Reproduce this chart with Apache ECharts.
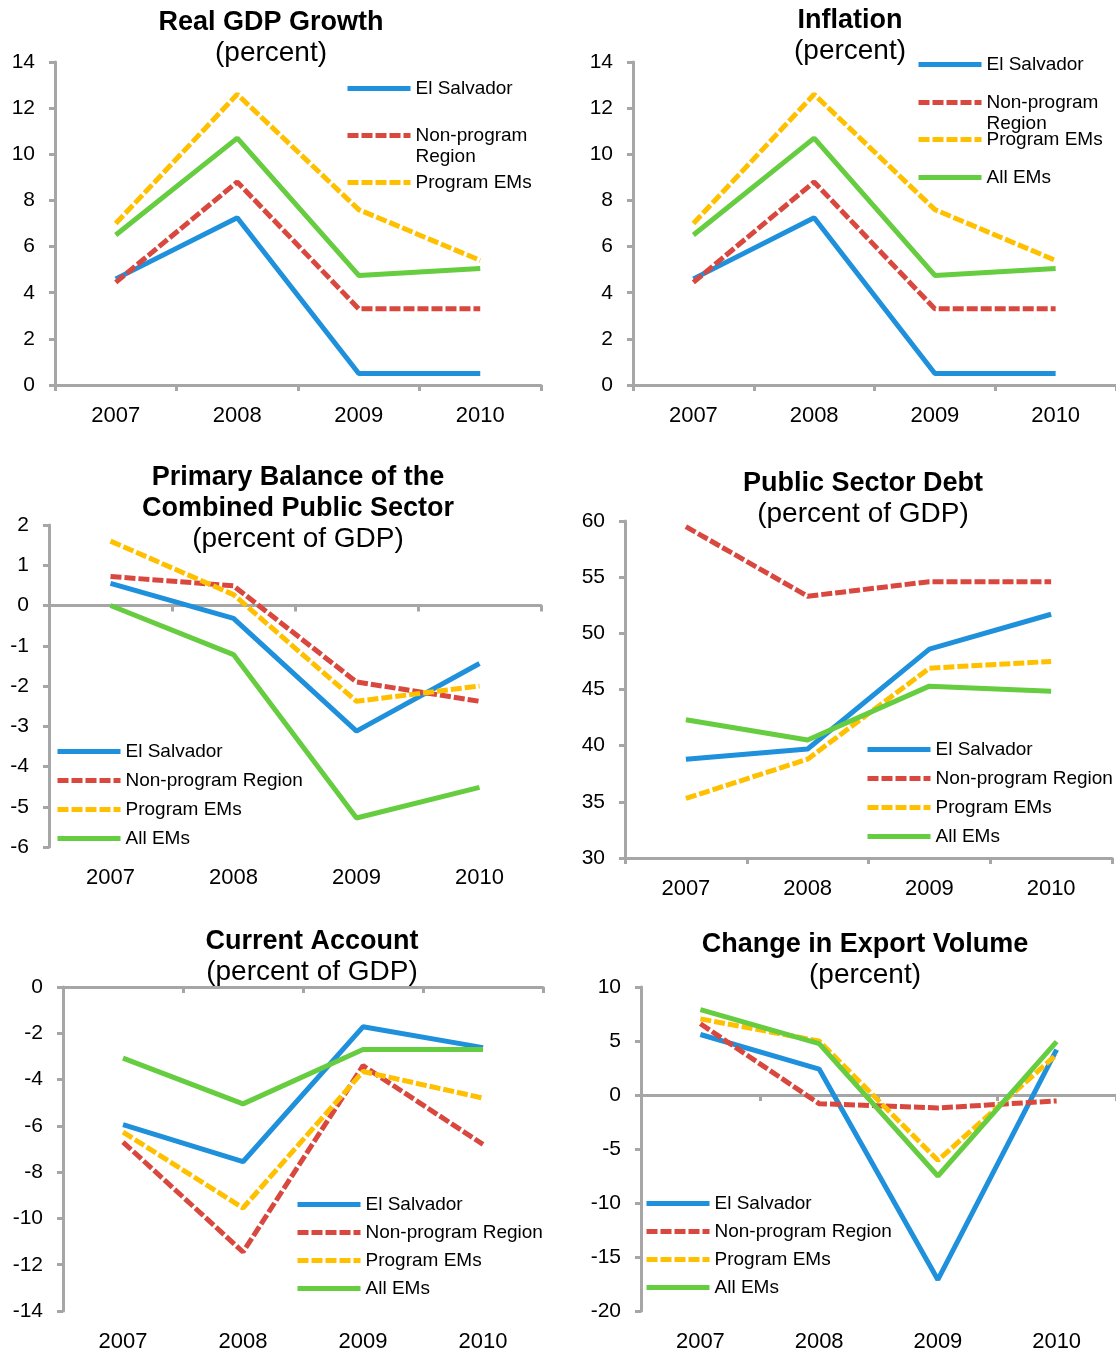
<!DOCTYPE html>
<html>
<head>
<meta charset="utf-8">
<script src="https://cdn.jsdelivr.net/npm/echarts@6/dist/echarts.min.js"></script>
<style>
html, body { margin: 0; padding: 0; background: #fff; }
#main { width: 1116px; height: 1355px; }
</style>
</head>
<body>
<div id="main"></div>
<script>
const years = ['2007', '2008', '2009', '2010'];
const seriesNames = ['El Salvador', 'Non-program Region', 'Program EMs', 'All EMs'];

// Real GDP growth (percent)
const gdpElSalvador = [4.6, 7.25, 0.5, 0.5];
const gdpNonProgram = [4.45, 8.8, 3.3, 3.3];
const gdpProgram = [7.0, 12.6, 7.6, 5.4];
const gdpAllEMs = [6.5, 10.7, 4.75, 5.05];

// Inflation (percent)
const inflElSalvador = [4.6, 7.25, 0.5, 0.5];
const inflNonProgram = [4.45, 8.8, 3.3, 3.3];
const inflProgram = [7.0, 12.6, 7.6, 5.4];
const inflAllEMs = [6.5, 10.7, 4.75, 5.05];

// Primary balance of the combined public sector (percent of GDP)
const pbElSalvador = [0.55, -0.32, -3.12, -1.44];
const pbNonProgram = [0.72, 0.49, -1.9, -2.38];
const pbProgram = [1.6, 0.27, -2.38, -2.0];
const pbAllEMs = [0.0, -1.22, -5.28, -4.52];

// Public sector debt (percent of GDP)
const debtElSalvador = [38.8, 39.7, 48.6, 51.7];
const debtNonProgram = [59.5, 53.3, 54.6, 54.6];
const debtProgram = [35.3, 38.8, 46.9, 47.5];
const debtAllEMs = [42.3, 40.5, 45.3, 44.85];

// Current account (percent of GDP)
const caElSalvador = [-5.95, -7.55, -1.72, -2.62];
const caNonProgram = [-6.7, -11.45, -3.4, -6.8];
const caProgram = [-6.27, -9.55, -3.65, -4.8];
const caAllEMs = [-3.07, -5.05, -2.7, -2.7];

// Change in export volume (percent)
const exElSalvador = [5.6, 2.4, -17.1, 4.2];
const exNonProgram = [6.6, -0.8, -1.2, -0.55];
const exProgram = [7.05, 5.0, -6.05, 3.75];
const exAllEMs = [7.9, 4.75, -7.5, 4.95];

const FONT = 'Liberation Sans';
const AXIS_GRAY = '#A6A6A6';
const lineStyles = [
  { color: '#1F90DB', type: 'solid' },
  { color: '#D9483F', type: [11, 3] },
  { color: '#FFC000', type: [11, 3] },
  { color: '#66CC40', type: 'solid' }
];

// layout of the six panels
const panels = [
  { title: 'Real GDP Growth', sub: '(percent)', cx: 271, top: 7,
    grid: { left: 55, top: 62, width: 486, height: 323 },
    min: 0, max: 14, interval: 2,
    data: [gdpElSalvador, gdpNonProgram, gdpProgram, gdpAllEMs] },
  { title: 'Inflation', sub: '(percent)', cx: 850, top: 5,
    grid: { left: 633, top: 62, width: 487, height: 323 },
    min: 0, max: 14, interval: 2,
    data: [inflElSalvador, inflNonProgram, inflProgram, inflAllEMs] },
  { title: 'Primary Balance of the\nCombined Public Sector', sub: '(percent of GDP)', cx: 298, top: 462,
    grid: { left: 49, top: 525, width: 492, height: 322 },
    min: -6, max: 2, interval: 1,
    data: [pbElSalvador, pbNonProgram, pbProgram, pbAllEMs] },
  { title: 'Public Sector Debt', sub: '(percent of GDP)', cx: 863, top: 468,
    grid: { left: 625, top: 521, width: 487, height: 337 },
    min: 30, max: 60, interval: 5,
    data: [debtElSalvador, debtNonProgram, debtProgram, debtAllEMs] },
  { title: 'Current Account', sub: '(percent of GDP)', cx: 312, top: 926,
    grid: { left: 63, top: 987, width: 480, height: 324 },
    min: -14, max: 0, interval: 2,
    data: [caElSalvador, caNonProgram, caProgram, caAllEMs] },
  { title: 'Change in Export Volume', sub: '(percent)', cx: 865, top: 929,
    grid: { left: 641, top: 987, width: 480, height: 324 },
    min: -20, max: 10, interval: 5,
    data: [exElSalvador, exNonProgram, exProgram, exAllEMs] }
];

const titles = [], grids = [], xAxes = [], yAxes = [], series = [];

panels.forEach((p, i) => {
  titles.push({
    text: p.title,
    subtext: p.sub,
    left: p.cx,
    top: p.top,
    textAlign: 'center',
    padding: 0,
    itemGap: 0,
    textStyle: { fontFamily: FONT, fontSize: 27, fontWeight: 'bold', color: '#000', lineHeight: 31 },
    subtextStyle: { fontFamily: FONT, fontSize: 28, color: '#000', lineHeight: 31 }
  });
  grids.push(Object.assign({ containLabel: false }, p.grid));
  // axis line sits on zero, labels stay at the bottom
  xAxes.push({
    gridIndex: i, type: 'category', data: years, position: 'bottom',
    axisLine: { onZero: true, lineStyle: { color: AXIS_GRAY, width: 3 } },
    axisTick: { show: true, length: 6, lineStyle: { color: AXIS_GRAY, width: 3 } },
    axisLabel: { show: false },
    splitLine: { show: false }
  });
  xAxes.push({
    gridIndex: i, type: 'category', data: years, position: 'bottom',
    axisLine: { show: false, onZero: false },
    axisTick: { show: false },
    axisLabel: { margin: 20, fontFamily: FONT, fontSize: 22, color: '#000' },
    splitLine: { show: false }
  });
  yAxes.push({
    gridIndex: i, type: 'value', min: p.min, max: p.max, interval: p.interval,
    axisLine: { show: true, lineStyle: { color: AXIS_GRAY, width: 3 } },
    axisTick: { show: true, length: 6, lineStyle: { color: AXIS_GRAY, width: 3 } },
    axisLabel: { margin: 20, fontFamily: FONT, fontSize: 21, color: '#000' },
    splitLine: { show: false }
  });
  p.data.forEach((vals, k) => {
    series.push({
      name: seriesNames[k],
      type: 'line',
      xAxisIndex: i * 2,
      yAxisIndex: i,
      data: vals,
      symbol: 'none',
      color: lineStyles[k].color,
      lineStyle: { color: lineStyles[k].color, width: 5, type: lineStyles[k].type },
      z: 2 + k
    });
  });
});

function makeLegend(names, left, top, gap, twoLine) {
  return {
    data: names,
    orient: 'vertical',
    left: left,
    top: top,
    padding: 0,
    itemGap: gap,
    itemWidth: 63,
    itemHeight: 21,
    selectedMode: false,
    lineStyle: { width: 5 },
    itemStyle: { opacity: 0 },
    textStyle: { fontFamily: FONT, fontSize: 19, color: '#000', lineHeight: 21 },
    formatter: function (name) {
      if (twoLine && name === 'Non-program Region') return '\nNon-program\nRegion';
      return name;
    }
  };
}

const legends = [
  makeLegend(seriesNames.slice(0, 3), 345, 78, 5, true),
  makeLegend(seriesNames.slice(0, 2), 916, 54, -4, true),
  makeLegend(seriesNames.slice(2, 4), 916, 129, 17, false),
  makeLegend(seriesNames, 55, 741, 8, false),
  makeLegend(seriesNames, 865, 739, 8, false),
  makeLegend(seriesNames, 295, 1194, 7, false),
  makeLegend(seriesNames, 644, 1193, 7, false)
];

const chart = echarts.init(document.getElementById('main'));
chart.setOption({
  animation: false,
  backgroundColor: '#fff',
  title: titles,
  legend: legends,
  grid: grids,
  xAxis: xAxes,
  yAxis: yAxes,
  series: series
});
</script>
</body>
</html>
